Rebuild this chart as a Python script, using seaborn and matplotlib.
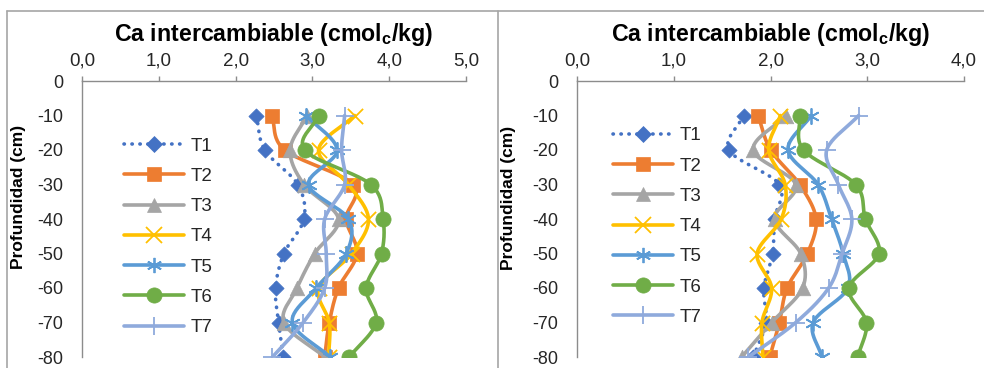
import numpy as np
import pandas as pd
import matplotlib
matplotlib.use("Agg")
import matplotlib.pyplot as plt
import seaborn as sns
from matplotlib.lines import Line2D

# profundidad de muestreo (cm)
profundidad = [-10, -20, -30, -40, -50, -60, -70, -80]
tratamientos = ["T1", "T2", "T3", "T4", "T5", "T6", "T7"]

# panel izquierdo - Ca intercambiable (cmolc/kg)
izq_t1 = [2.27, 2.38, 2.81, 2.89, 2.63, 2.52, 2.56, 2.62]
izq_t2 = [2.47, 2.64, 3.53, 3.44, 3.58, 3.34, 3.22, 3.16]
izq_t3 = [2.93, 2.71, 2.89, 3.34, 3.03, 2.80, 2.63, 3.16]
izq_t4 = [3.55, 3.08, 3.47, 3.73, 3.51, 3.08, 3.22, 3.21]
izq_t5 = [2.92, 3.32, 2.95, 3.47, 3.44, 3.05, 2.74, 3.23]
izq_t6 = [3.08, 2.90, 3.76, 3.92, 3.90, 3.70, 3.83, 3.48]
izq_t7 = [3.42, 3.38, 3.42, 3.16, 3.18, 3.16, 2.88, 2.48]

# panel derecho
der_t1 = [1.72, 1.57, 2.09, 2.04, 2.02, 1.93, 1.95, 1.82]
der_t2 = [1.87, 2.00, 2.30, 2.47, 2.38, 2.17, 2.09, 1.99]
der_t3 = [2.16, 1.82, 2.26, 2.04, 2.31, 2.33, 2.01, 1.70]
der_t4 = [2.10, 1.98, 2.15, 2.11, 1.86, 2.01, 1.91, 1.92]
der_t5 = [2.42, 2.18, 2.49, 2.63, 2.75, 2.80, 2.44, 2.53]
der_t6 = [2.30, 2.34, 2.88, 2.98, 3.12, 2.81, 2.99, 2.90]
der_t7 = [2.91, 2.58, 2.70, 2.84, 2.74, 2.60, 2.26, 1.77]

xticks_izq = [0, 1, 2, 3, 4, 5]
xticks_der = [0, 1, 2, 3, 4]
yticks = [0, -10, -20, -30, -40, -50, -60, -70, -80]

titulo = r"Ca intercambiable (cmol$_\mathrm{c}$/kg)"
ylab = "Profundidad (cm)"

colores = ["#4472C4", "#ED7D31", "#A5A5A5", "#FFC000", "#5B9BD5", "#70AD47", "#8FAADC"]
marcadores = ["D", "s", "^", "x", (6, 2, 0), "o", "+"]
tam = [60, 105, 110, 120, 120, 120, 160]
rellenos = [True, True, True, False, False, True, False]

sns.set_style("white")
plt.rcParams["font.family"] = ["Liberation Sans", "DejaVu Sans"]
plt.rcParams["mathtext.fontset"] = "custom"
plt.rcParams["mathtext.rm"] = "Liberation Sans:bold"
plt.rcParams["mathtext.default"] = "rm"
plt.rcParams["axes.unicode_minus"] = False

gris = "#8c8c8c"
texto = "#262626"


def suave(x, y, n=24):
    # curva suavizada tipo Excel (bezier con tangentes de Catmull-Rom)
    p = np.column_stack([x, y]).astype(float)
    ext = np.vstack([2 * p[0] - p[1], p, 2 * p[-1] - p[-2]])
    t = np.linspace(0, 1, n)[:, None]
    out = []
    for i in range(1, len(ext) - 2):
        p0, p1, p2, p3 = ext[i - 1], ext[i], ext[i + 1], ext[i + 2]
        c1 = p1 + (p2 - p0) / 6
        c2 = p2 - (p3 - p1) / 6
        seg = (1 - t) ** 3 * p1 + 3 * (1 - t) ** 2 * t * c1 + 3 * (1 - t) * t ** 2 * c2 + t ** 3 * p2
        out.append(seg if i == 1 else seg[1:])
    s = np.vstack(out)
    return s[:, 0], s[:, 1]


def estilo_linea(i):
    if i == 0:
        return dict(ls=(0, (0.1, 2.1)), dash_capstyle="round")
    return dict(ls="-")


def panel(ax, series, xt, xpos_leg, ypos_leg):
    for i, vals in enumerate(series):
        xs, ys = suave(vals, profundidad)
        ax.plot(xs, ys, color=colores[i], lw=2.6, zorder=2 + i, **estilo_linea(i))
        df = pd.DataFrame({"ca": vals, "prof": profundidad})
        if rellenos[i]:
            sns.scatterplot(data=df, x="ca", y="prof", marker=marcadores[i], s=tam[i],
                            color=colores[i], edgecolor=colores[i], linewidth=0.5,
                            ax=ax, zorder=2.5 + i, legend=False)
        else:
            sns.scatterplot(data=df, x="ca", y="prof", marker=marcadores[i], s=tam[i],
                            color=colores[i], linewidth=1.3, ax=ax, zorder=2.5 + i, legend=False)

    ax.set_xlim(xt[0], xt[-1])
    ax.set_ylim(-80, 0)
    ax.set_xticks(xt)
    ax.set_yticks(yticks)
    ax.xaxis.tick_top()
    ax.xaxis.set_label_position("top")
    ax.xaxis.set_major_formatter(plt.FuncFormatter(lambda v, p: f"{v:.1f}".replace(".", ",")))
    ax.yaxis.set_major_formatter(plt.FuncFormatter(lambda v, p: f"{v:.0f}"))
    ax.tick_params(axis="x", direction="out", length=3.5, width=1, color=gris,
                   labelsize=13.5, labelcolor=texto, pad=4.5)
    ax.tick_params(axis="y", direction="out", length=4.5, width=1, color=gris,
                   labelsize=13, labelcolor=texto, pad=9)
    for lado in ["bottom", "right"]:
        ax.spines[lado].set_visible(False)
    for lado in ["top", "left"]:
        ax.spines[lado].set_color(gris)
        ax.spines[lado].set_linewidth(1)
    ax.set_xlabel(titulo, fontsize=16.7, fontweight="bold", color="black", labelpad=8.5)
    ax.set_ylabel(ylab, fontsize=12.5, fontweight="bold", color="black")
    ax.grid(False)

    handles = []
    for i in range(len(tratamientos)):
        handles.append(Line2D([], [], color=colores[i], lw=2.6, marker=marcadores[i],
                              markersize=np.sqrt(tam[i]), markeredgewidth=1.3 if not rellenos[i] else 0.5,
                              **estilo_linea(i)))
    ax.legend(handles, tratamientos, loc="upper left", bbox_to_anchor=(xpos_leg, ypos_leg),
              frameon=False, fontsize=13.5, handlelength=3.2, handletextpad=0.35,
              labelspacing=0.7, borderpad=0, borderaxespad=0, labelcolor=texto)


fig = plt.figure(figsize=(9.84, 3.68), dpi=100)
ax1 = fig.add_axes([82 / 984, 11 / 368, 384 / 984, 276 / 368])
ax2 = fig.add_axes([577.3 / 984, 11 / 368, 386.7 / 984, 276 / 368])

panel(ax1, [izq_t1, izq_t2, izq_t3, izq_t4, izq_t5, izq_t6, izq_t7], xticks_izq, 0.11, 0.795)
panel(ax2, [der_t1, der_t2, der_t3, der_t4, der_t5, der_t6, der_t7], xticks_der, 0.092, 0.832)
ax1.yaxis.set_label_coords(-0.146, 0.58)
ax2.yaxis.set_label_coords(-0.158, 0.575)

# marco de los graficos
borde = "#a6a6a6"
fig.add_artist(Line2D([7 / 984, 1], [1 - 11 / 368, 1 - 11 / 368], color=borde, lw=1.2))
fig.add_artist(Line2D([7 / 984, 7 / 984], [0, 1 - 11 / 368], color=borde, lw=1.2))
fig.add_artist(Line2D([497.5 / 984, 497.5 / 984], [0, 1 - 11 / 368], color=borde, lw=1.2))

fig.savefig("out.png", dpi=100)
